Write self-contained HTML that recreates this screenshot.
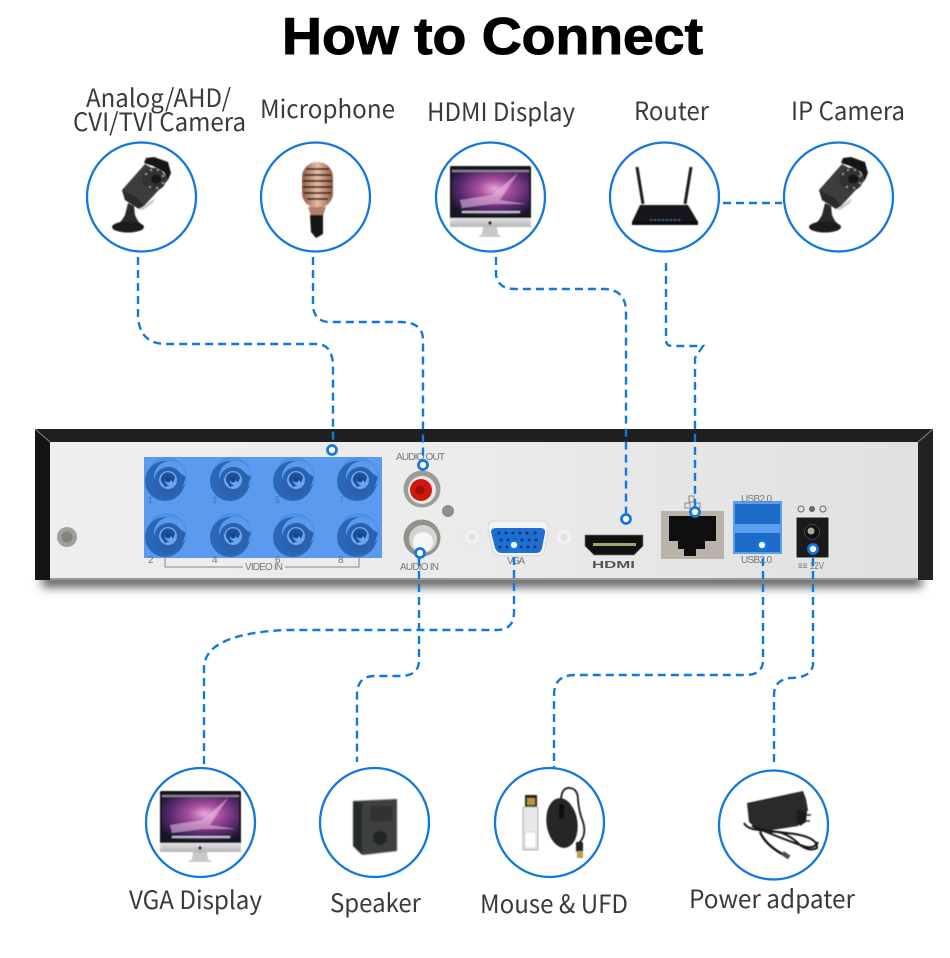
<!DOCTYPE html>
<html><head><meta charset="utf-8"><style>
html,body{margin:0;padding:0;background:#fff}
svg{display:block}
.lb{font-family:"Noto Sans CJK SC","Liberation Sans",sans-serif;font-size:25px;fill:#3a3a3a}
.sm{font-family:"Liberation Sans",sans-serif;font-size:10px;fill:#777}
.c{fill:#fff;stroke:#1477dc;stroke-width:2.3}
.d{fill:none;stroke:#1477dc;stroke-width:2.4;stroke-dasharray:8 5}
.dot{fill:#fff;stroke:#1477dc;stroke-width:2.8}
</style></head><body>
<svg width="950" height="958" viewBox="0 0 950 958" xmlns="http://www.w3.org/2000/svg">
<defs>
<filter id="b1" x="-20%" y="-20%" width="140%" height="140%"><feGaussianBlur stdDeviation="0.5"/></filter>
<filter id="b2" x="-20%" y="-20%" width="140%" height="140%"><feGaussianBlur stdDeviation="0.9"/></filter>
<filter id="b4" x="-10%" y="-100%" width="120%" height="300%"><feGaussianBlur stdDeviation="5"/></filter>
<radialGradient id="scr" cx=".55" cy=".42" r=".68"><stop offset="0" stop-color="#e6a9d8"/><stop offset=".3" stop-color="#a84f9f"/><stop offset=".65" stop-color="#5a2a70"/><stop offset="1" stop-color="#16152a"/></radialGradient>
<linearGradient id="pan" x1="0" y1="0" x2="1" y2="0"><stop offset="0" stop-color="#eeeeee"/><stop offset=".5" stop-color="#ebebeb"/><stop offset="1" stop-color="#e0e0e0"/></linearGradient>
<linearGradient id="mic" x1="0" y1="0" x2="1" y2="0"><stop offset="0" stop-color="#8d5a42"/><stop offset=".5" stop-color="#e6bda6"/><stop offset="1" stop-color="#8a5a44"/></linearGradient>
<linearGradient id="slv" x1="0" y1="0" x2="0" y2="1"><stop offset="0" stop-color="#e2e2e4"/><stop offset="1" stop-color="#b5b5b8"/></linearGradient>
<g id="cam" filter="url(#b1)">
<path d="M-19 -7 L4 -33 L27 -20 L27 -17 L3 9 L-2 12 L-16 3Z" fill="#3d3d3d"/>
<path d="M-19 -7 L-16 3 L-2 12 L3 9 L-3 1 Z" fill="#2b2b2b"/>
<path d="M3 -34 L5 -39 L13 -40 L27 -35 L30 -24 L27 -17 L23 -25 L12 -31Z" fill="#191919"/>
<ellipse cx="13" cy="-18" rx="12" ry="11" transform="rotate(30 13 -18)" fill="#333"/>
<ellipse cx="15" cy="-18" rx="5" ry="4.500" fill="#171717"/>
<g fill="#aaa"><circle cx="5" cy="-23" r="1"/><circle cx="10" cy="-27" r="1"/><circle cx="17" cy="-27" r="1"/><circle cx="22" cy="-21" r="1"/><circle cx="22" cy="-14" r="1"/><circle cx="16" cy="-9" r="1"/><circle cx="9" cy="-10" r="1"/></g>
<path d="M-2 12 L3 9 L14 1 L12 6 L2 13Z" fill="#c9c9c9"/>
<path d="M-13 6 L-7 9 L-6 18 L-3 24 L1 28 L-24 28 L-19 23 L-16 18Z" fill="#2c2c2c"/>
<ellipse cx="-13" cy="30" rx="16" ry="5.500" fill="#1a1a1a"/>
</g>
<g id="imac" filter="url(#b1)">
<rect x="-40" y="-31" width="81" height="54" rx="1.500" fill="#16161c"/>
<rect x="-38" y="-27" width="77" height="45" fill="url(#scr)"/>
<rect x="-38" y="-27" width="77" height="2" fill="#88868e"/>
<path d="M-30 3 L2 -2 L28 -24 L10 3 L36 7 L3 7 L-28 11Z" fill="#eec4e6" opacity=".55"/>
<rect x="-28" y="14" width="58" height="2" fill="#ddd" opacity=".85"/>
<rect x="-40" y="21" width="81" height="9" fill="url(#slv)"/>
<circle cx="0" cy="26" r="1.700" fill="#222"/>
<path d="M-7 30 L7 30 L8 37 L12 40 L-12 40 L-8 37Z" fill="#c8c8ca"/>
</g>
<g id="bnc">
<circle cy="-3" r="20" fill="#4f8fe5"/>
<circle cx="-2" cy="1" r="20" fill="#2c66b6"/>
<circle cx="3" cy="-3" r="16" fill="#5a9aee"/>
<path d="M-12 -3 A14 14 0 0 1 13 -7 L 19 -3 L 15 8 A14 14 0 0 1 -12 -3Z" fill="#2a62b0"/>
<circle cx="1" r="9" fill="#6aa6f2"/>
<path d="M-6 1 A7 7 0 0 1 8 -2 L6 3 A5 5 0 0 0 -2 1 A4 4 0 0 0 3 5 L-2 7Z" fill="#204f97"/>
<circle cx="1" r="2.500" fill="#1a4382"/>
</g>
<g id="nut"><path d="M-8 -5 L0 -9 L8 -5 L8 5 L0 9 L-8 5Z" fill="#f1f1f1" stroke="#e2e2e2"/><circle r="3.500" fill="#e0e0e0"/></g>
</defs>
<rect width="950" height="958" fill="#fff"/>

<text x="282" y="54" textLength="421" lengthAdjust="spacingAndGlyphs" font-family="Liberation Sans,sans-serif" font-weight="700" font-size="52" fill="#000" stroke="#000" stroke-width="1">How to Connect</text>

<text class="lb" x="86" y="107" textLength="145" lengthAdjust="spacingAndGlyphs">Analog/AHD/</text>
<text class="lb" x="73" y="131" textLength="173" lengthAdjust="spacingAndGlyphs">CVI/TVI Camera</text>
<text class="lb" x="260" y="118" textLength="135" lengthAdjust="spacingAndGlyphs">Microphone</text>
<text class="lb" x="427" y="121" textLength="148" lengthAdjust="spacingAndGlyphs">HDMI Display</text>
<text class="lb" x="634" y="120" textLength="75" lengthAdjust="spacingAndGlyphs">Router</text>
<text class="lb" x="791" y="120" textLength="114" lengthAdjust="spacingAndGlyphs">IP Camera</text>
<text class="lb" x="129" y="909" textLength="133" lengthAdjust="spacingAndGlyphs">VGA Display</text>
<text class="lb" x="330" y="912" textLength="91" lengthAdjust="spacingAndGlyphs">Speaker</text>
<text class="lb" x="480" y="913" textLength="148" lengthAdjust="spacingAndGlyphs">Mouse &amp; UFD</text>
<text class="lb" x="689" y="908" textLength="166" lengthAdjust="spacingAndGlyphs">Power adpater</text>

<!-- device panel -->
<rect x="42" y="575" width="880" height="12" fill="#555" filter="url(#b4)"/>
<rect x="35" y="429" width="898" height="151" fill="#1f1f1f"/>
<path d="M35 429 L50 442 L50 580 L35 580Z" fill="#141414"/>
<path d="M933 429 L918 442 L918 580 L933 580Z" fill="#222"/>
<path d="M35 429 L50 442" stroke="#888" stroke-width="1"/><path d="M933 429 L918 442" stroke="#888" stroke-width="1"/>
<rect x="50" y="442" width="868" height="138" fill="url(#pan)"/>
<rect x="50" y="578" width="868" height="2" fill="#999"/>

<!-- video in -->
<rect x="144" y="457" width="238" height="101" fill="#5a9bef"/>
<use href="#bnc" x="167" y="480"/><use href="#bnc" x="232" y="480"/><use href="#bnc" x="295" y="480"/><use href="#bnc" x="359" y="480"/>
<use href="#bnc" x="167" y="536"/><use href="#bnc" x="232" y="536"/><use href="#bnc" x="295" y="536"/><use href="#bnc" x="359" y="536"/>
<g font-family="Liberation Sans,sans-serif" font-size="9" fill="#3f72b8"><text x="148" y="503">1</text><text x="212" y="503">3</text><text x="275" y="503">5</text><text x="339" y="503">7</text></g>
<path d="M165 558 V567 H243 M285 567 H359 V558" fill="none" stroke="#888" stroke-width="1"/>
<text class="sm" x="245" y="570" textLength="38">VIDEO IN</text>
<text class="sm" x="148" y="563" font-size="9">2</text><text class="sm" x="212" y="563">4</text><text class="sm" x="275" y="563">6</text><text class="sm" x="338" y="563">8</text>

<!-- screws -->
<circle cx="67" cy="537" r="10" fill="#a09f9a"/><circle cx="67" cy="537" r="5.500" fill="#85827c"/>
<circle cx="448" cy="511" r="6" fill="#8f8f8a"/>
<use href="#nut" x="472" y="537"/><use href="#nut" x="564" y="537"/>

<!-- audio -->
<text class="sm" x="396" y="460" textLength="49">AUDIO OUT</text>
<circle cx="422" cy="489" r="18.500" fill="#9c9c97"/><circle cx="422" cy="490" r="14" fill="#e9e9e9"/>
<circle cx="421" cy="490" r="11" fill="#cf170d"/><circle cx="420" cy="490" r="4.500" fill="#9c110a"/>
<circle cx="422" cy="538" r="18.500" fill="#92928c"/><circle cx="423" cy="539" r="14" fill="#d4d4d0"/>
<circle cx="423" cy="542" r="10" fill="#f6f6f6"/>
<text class="sm" x="400" y="570" textLength="39">AUDIO IN</text>

<!-- VGA -->
<path d="M488 528 Q488 521 496 521 L541 521 Q549 521 548 530 L545 548 Q544 556 536 556 L502 556 Q494 556 492 548Z" fill="#f4f4f4" stroke="#d5d5d5"/>
<path d="M491 532 Q491 528 496 528 L540 528 Q546 528 545 533 L542 548 Q541 553 536 553 L502 553 Q497 553 495 548Z" fill="#1d6fd3"/>
<g fill="#0c3772"><circle cx="499" cy="533" r="1.500"/><circle cx="506" cy="533" r="1.500"/><circle cx="513" cy="533" r="1.500"/><circle cx="520" cy="533" r="1.500"/><circle cx="527" cy="533" r="1.500"/><circle cx="535" cy="533" r="1.500"/><circle cx="501" cy="540" r="1.500"/><circle cx="508" cy="540" r="1.500"/><circle cx="515" cy="540" r="1.500"/><circle cx="522" cy="540" r="1.500"/><circle cx="529" cy="540" r="1.500"/><circle cx="536" cy="540" r="1.500"/><circle cx="500" cy="547" r="1.500"/><circle cx="507" cy="547" r="1.500"/><circle cx="521" cy="547" r="1.500"/><circle cx="528" cy="547" r="1.500"/><circle cx="535" cy="547" r="1.500"/></g>
<text class="sm" x="507" y="564" textLength="18">VGA</text>

<!-- HDMI -->
<path d="M585 535 L643 535 L643 546 L634 555 L594 555 L585 546Z" fill="#111" stroke="#777" stroke-width=".7"/>
<rect x="593" y="543" width="43" height="3" fill="#a8a26e"/>
<text x="592" y="568" font-family="Liberation Sans,sans-serif" font-weight="700" font-size="10" fill="#555" textLength="43" lengthAdjust="spacingAndGlyphs">HDMI</text>

<!-- RJ45 -->
<rect x="661" y="511" width="63" height="48" fill="#bab3aa"/>
<path d="M669 516 H716 V541 H705 V549 H696 V556 H684 V549 H678 V541 H669Z" fill="#0f0f0f"/>
<path d="M689 496 h5 v6 h-5z M685 503 h5 v5 h-5z M695 503 h5 v5 h-5z" fill="none" stroke="#888" stroke-width="1"/>

<!-- USB -->
<rect x="733" y="501" width="49" height="53" fill="#5a9eee"/>
<rect x="735" y="504" width="45" height="20" fill="#1d6bc9"/>
<rect x="735" y="533" width="45" height="19" fill="#1d6bc9"/>
<text class="sm" x="741" y="502" textLength="31">USB2.0</text>
<text class="sm" x="741" y="563" textLength="31">USB2.0</text>

<!-- Power -->
<rect x="796" y="517" width="33" height="41" fill="#1a1a1a" stroke="#eee"/>
<circle cx="812" cy="532" r="7.500" fill="#111" stroke="#444"/><circle cx="811" cy="531" r="3.500" fill="#aaa"/>
<circle cx="801" cy="509" r="3" fill="none" stroke="#666"/><circle cx="812" cy="509" r="3" fill="#666"/><circle cx="823" cy="509" r="3" fill="none" stroke="#666"/>
<text class="sm" x="798" y="569" textLength="26" lengthAdjust="spacingAndGlyphs">≡≡ 12V</text>

<!-- connectors -->
<path class="d" d="M138 257 V317 Q140 344 166 344 H316 Q333 344 333 367 V446"/>
<path class="d" d="M313 257 V307 Q315 322 330 322 H400 Q423 322 423 340 V460"/>
<path class="d" d="M496 257 V275 Q498 289 515 289 H605 Q626 290 626 312 V514"/>
<path class="d" d="M666 263 V340 Q666 346 672 346 H703 L695 358 V507"/>
<path class="d" d="M723 203 H782"/>
<path class="d" d="M514 557 V612 Q514 630 497 630 H285 Q204 634 204 668 V765"/>
<path class="d" d="M419 558 V660 Q419 676 400 676 H375 Q357 676 357 695 V762"/>
<path class="d" d="M763 558 V660 Q763 675 745 675 H575 Q554 675 554 695 V767"/>
<path class="d" d="M813 558 V665 Q811 678 790 678 Q774 680 774 695 V762"/>
<circle class="dot" cx="332" cy="450" r="4.500"/>
<circle class="dot" cx="423" cy="465" r="4.500"/>
<circle class="dot" cx="626" cy="519" r="4.500"/>
<circle class="dot" cx="695" cy="512" r="4.500"/>
<circle class="dot" cx="420" cy="553" r="4.500"/>
<circle class="dot" cx="514" cy="545" r="4.500"/>
<circle class="dot" cx="762" cy="545" r="4.500"/>
<circle class="dot" cx="813" cy="549" r="4.500"/>

<!-- circles -->
<circle class="c" cx="141.500" cy="197" r="54.500"/>
<circle class="c" cx="315.500" cy="197" r="54.500"/>
<circle class="c" cx="490.500" cy="197" r="54.500"/>
<circle class="c" cx="664.500" cy="197" r="54.500"/>
<circle class="c" cx="838.500" cy="197" r="54.500"/>
<circle class="c" cx="200.500" cy="822.500" r="54.500"/>
<circle class="c" cx="374.500" cy="822.500" r="54.500"/>
<circle class="c" cx="549.500" cy="822.500" r="54.500"/>
<circle class="c" cx="773.500" cy="825" r="54.500"/>

<use href="#cam" x="141" y="197"/>
<use href="#cam" x="838" y="197"/>

<!-- microphone -->
<g filter="url(#b1)">
<rect x="302" y="162" width="31" height="46" rx="15" fill="url(#mic)"/>
<g stroke="#3f241a" stroke-width="1.800"><path d="M306 169 H329 M304 175 H331 M303 181 H332 M303 187 H332 M304 193 H331 M307 199 H328"/></g>
<path d="M308 207 H326 L323 216 H311Z" fill="#b28068"/>
<path d="M310 215 H323 L323 234 L316 238 L311 232Z" fill="#151515"/>
</g>
<use href="#imac" x="490" y="197"/>

<!-- router -->
<g filter="url(#b1)">
<path d="M637 167 L643 204 M691 167 L685 204" stroke="#1c1c1c" stroke-width="3" fill="none"/>
<path d="M640 205 L688 205 L698 222 L632 222Z" fill="#12141b"/>
<rect x="632" y="221" width="66" height="4" fill="#0a0a0a"/>
<path d="M650 220 H680" stroke="#4f6ea8" stroke-width="1.200" stroke-dasharray="2 2"/>
</g>

<use href="#imac" x="200" y="822"/>

<!-- speaker -->
<g filter="url(#b2)">
<path d="M353 801 L397 799 L397 851 L363 855 L353 846Z" fill="#3d403e"/>
<path d="M353 801 L362 803 L362 855 L353 846Z" fill="#272a29"/>
<circle cx="380" cy="838" r="7" fill="#222524"/>
<rect x="370" y="806" width="22" height="15" fill="#303231"/>
</g>

<!-- mouse & UFD -->
<g filter="url(#b1)">
<rect x="525" y="795" width="12" height="13" fill="#2b2418"/>
<rect x="527" y="798" width="8" height="7" fill="#b5953f"/>
<rect x="523" y="807" width="15" height="43" rx="1" fill="#e8e8ea" stroke="#aaa"/>
<rect x="525" y="832" width="11" height="16" fill="#fff" stroke="#bbb" stroke-width=".6"/>
<ellipse cx="562" cy="823" rx="15.500" ry="25" fill="#262626" transform="rotate(-8 562 823)"/>
<rect x="559" y="804" width="5" height="15" rx="2.500" fill="#0b0b0b"/>
<path d="M561 799 Q562 787 570 788 Q578 789 578 800 Q579 812 583 822 Q587 835 579 843" fill="none" stroke="#1a1a1a" stroke-width="1.800"/>
<rect x="576" y="842" width="7" height="10" rx="1" fill="#222"/>
<rect x="577" y="851" width="6" height="7" fill="#b89a5a"/>
</g>

<!-- power adapter -->
<g filter="url(#b1)">
<path d="M747 803 L803 791 L806 799 L808 810 L798 826 L760 832 L749 822Z" fill="#2b2b2b"/>
<path d="M797 810 L807 812 L806 822 L800 826 L796 820Z" fill="#1c1c1c"/>
<path d="M806 815 L811 815 M805 821 L810 821" stroke="#333" stroke-width="1.500"/>
<g fill="none" stroke="#151515" stroke-width="2">
<path d="M744 823 Q748 830 762 830 L795 834 Q818 838 817 848 Q810 852 800 845 Q785 830 770 832"/>
<path d="M752 826 Q780 838 803 846 Q814 850 818 842"/>
<path d="M760 832 Q766 846 786 856" stroke-width="2.400"/>
</g>
<rect x="782" y="853" width="8" height="4.500" fill="#4c4c4c" transform="rotate(35 786 855)"/>
</g>
</svg>
</body></html>
